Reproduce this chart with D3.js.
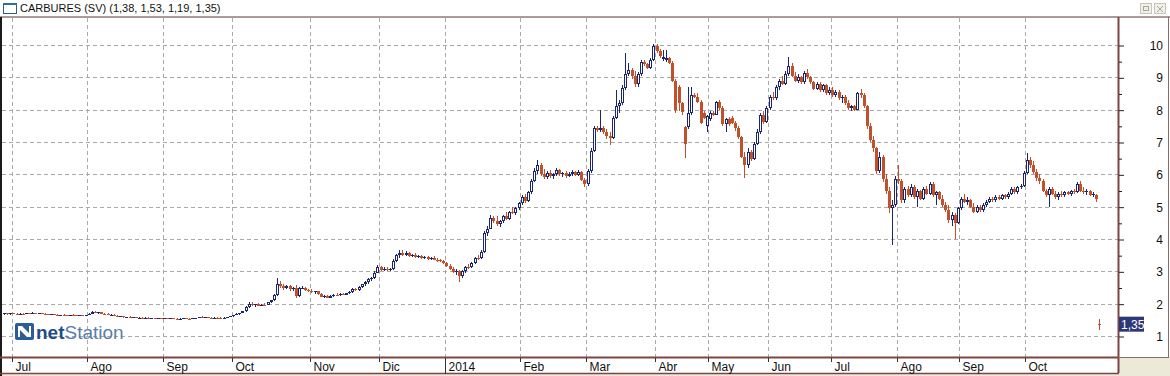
<!DOCTYPE html>
<html>
<head>
<meta charset="utf-8">
<script src="https://cdn.jsdelivr.net/npm/d3@7"></script>
<style>
  html, body { margin: 0; padding: 0; background: #ece9d8; }
  svg { display: block; }
  text { font-family: Arial, "Liberation Sans", sans-serif; }
</style>
</head>
<body>
<svg id="chart" width="1170" height="376"></svg>
<script>
// ---------------- DATA ----------------
const titleText = "CARBURES (SV) (1,38, 1,53, 1,19, 1,35)";
const lastPriceLabel = "1,35";
const lastPrice = 1.35;
const monthLabels = ["Jul","Ago","Sep","Oct","Nov","Dic","2014","Feb","Mar","Abr","May","Jun","Jul","Ago","Sep","Oct"];
const monthIdx    = [3, 27, 51, 73, 98, 120, 141, 165, 186, 208, 225, 244, 264, 285, 305, 326];
const yearTick = "2014";
const priceTicks = [1,2,3,4,5,6,7,8,9,10];
const priceMinorTicks = [1.5,2.5,3.5,4.5,5.5,6.5,7.5,8.5,9.5];
// daily candles [open, high, low, close]
const candles = [
  // Jul 2013
  [1.68,1.72,1.66,1.70],[1.70,1.72,1.66,1.67],[1.67,1.71,1.66,1.70],[1.70,1.72,1.68,1.69],[1.69,1.71,1.67,1.68],
  [1.68,1.70,1.66,1.69],[1.69,1.71,1.67,1.68],[1.68,1.72,1.67,1.70],[1.70,1.72,1.68,1.69],[1.69,1.73,1.68,1.71],
  [1.71,1.72,1.68,1.69],[1.69,1.71,1.67,1.70],[1.70,1.72,1.68,1.68],[1.68,1.70,1.66,1.67],[1.67,1.69,1.65,1.66],
  [1.66,1.68,1.64,1.67],[1.67,1.68,1.64,1.65],[1.65,1.67,1.63,1.64],[1.64,1.66,1.62,1.65],[1.65,1.67,1.63,1.64],
  [1.64,1.65,1.62,1.63],[1.63,1.66,1.62,1.65],[1.65,1.67,1.63,1.64],[1.64,1.66,1.62,1.63],[1.63,1.65,1.61,1.64],
  [1.64,1.66,1.62,1.63],[1.63,1.66,1.62,1.65],
  // Ago
  [1.65,1.70,1.64,1.69],[1.69,1.76,1.68,1.74],[1.74,1.78,1.70,1.72],[1.72,1.75,1.69,1.73],[1.73,1.75,1.68,1.69],
  [1.69,1.72,1.66,1.67],[1.67,1.70,1.64,1.65],[1.65,1.68,1.63,1.66],[1.66,1.67,1.61,1.62],[1.62,1.64,1.59,1.60],
  [1.60,1.63,1.58,1.61],[1.61,1.62,1.57,1.58],[1.58,1.60,1.56,1.59],[1.59,1.61,1.56,1.57],[1.57,1.59,1.55,1.58],
  [1.58,1.60,1.55,1.56],[1.56,1.58,1.54,1.57],[1.57,1.58,1.54,1.55],[1.55,1.58,1.54,1.57],[1.57,1.58,1.54,1.55],
  [1.55,1.57,1.53,1.56],[1.56,1.57,1.53,1.54],[1.54,1.56,1.52,1.55],[1.55,1.57,1.53,1.54],
  // Sep
  [1.54,1.56,1.52,1.55],[1.55,1.56,1.52,1.53],[1.53,1.56,1.52,1.55],[1.55,1.57,1.53,1.54],[1.54,1.56,1.52,1.53],
  [1.53,1.55,1.51,1.54],[1.54,1.56,1.52,1.55],[1.55,1.57,1.53,1.54],[1.54,1.55,1.52,1.53],[1.53,1.56,1.52,1.55],
  [1.55,1.57,1.54,1.56],[1.56,1.60,1.55,1.59],[1.59,1.61,1.56,1.57],[1.57,1.59,1.55,1.58],[1.58,1.60,1.56,1.57],
  [1.57,1.59,1.55,1.56],[1.56,1.58,1.54,1.57],[1.57,1.59,1.55,1.56],[1.56,1.58,1.54,1.55],[1.55,1.58,1.54,1.57],
  [1.57,1.60,1.56,1.59],[1.59,1.62,1.58,1.61],
  // Oct
  [1.61,1.66,1.60,1.65],[1.65,1.70,1.64,1.68],[1.68,1.72,1.66,1.71],[1.71,1.78,1.70,1.76],[1.76,1.92,1.75,1.90],
  [1.90,2.05,1.88,2.00],[2.00,2.04,1.92,1.95],[1.95,2.00,1.90,1.98],[1.98,2.02,1.92,1.94],[1.94,2.00,1.92,1.97],
  [1.97,2.02,1.94,1.96],[1.96,2.06,1.95,2.04],[2.04,2.12,2.02,2.10],[2.10,2.30,2.08,2.26],[2.26,2.80,2.24,2.62],
  [2.62,2.70,2.50,2.55],[2.55,2.62,2.42,2.48],[2.48,2.58,2.45,2.55],[2.55,2.58,2.40,2.44],[2.44,2.52,2.40,2.48],
  [2.50,2.58,2.18,2.24],[2.24,2.52,2.20,2.48],[2.48,2.55,2.44,2.50],[2.50,2.52,2.38,2.42],[2.42,2.46,2.36,2.40],
  // Nov
  [2.40,2.44,2.32,2.35],[2.35,2.40,2.30,2.38],[2.38,2.40,2.28,2.30],[2.30,2.34,2.20,2.22],[2.22,2.28,2.18,2.25],
  [2.25,2.28,2.16,2.18],[2.18,2.26,2.16,2.24],[2.24,2.30,2.22,2.28],[2.28,2.32,2.24,2.26],[2.26,2.32,2.24,2.30],
  [2.30,2.34,2.26,2.28],[2.28,2.34,2.26,2.32],[2.32,2.38,2.30,2.35],[2.35,2.48,2.33,2.45],[2.45,2.50,2.40,2.42],
  [2.42,2.55,2.40,2.52],[2.52,2.62,2.50,2.60],[2.60,2.70,2.56,2.66],[2.66,2.78,2.62,2.75],[2.75,2.82,2.70,2.78],
  [2.78,3.00,2.76,2.96],[2.96,3.20,2.94,3.12],
  // Dic
  [3.12,3.18,3.02,3.05],[3.05,3.12,3.00,3.08],[3.08,3.12,3.00,3.03],[3.03,3.10,3.00,3.07],[3.07,3.38,3.05,3.32],
  [3.32,3.55,3.30,3.50],[3.50,3.65,3.42,3.58],[3.58,3.66,3.48,3.52],[3.52,3.62,3.46,3.56],[3.56,3.60,3.44,3.48],
  [3.48,3.55,3.44,3.52],[3.52,3.56,3.42,3.45],[3.45,3.50,3.40,3.47],[3.47,3.50,3.38,3.42],[3.42,3.48,3.38,3.44],
  [3.44,3.47,3.36,3.38],[3.38,3.45,3.35,3.42],[3.42,3.46,3.34,3.36],[3.36,3.40,3.30,3.34],[3.34,3.38,3.28,3.32],
  [3.32,3.36,3.22,3.25],
  // Ene 2014
  [3.25,3.28,3.12,3.15],[3.15,3.22,3.05,3.08],[3.08,3.12,2.95,2.98],[2.98,3.06,2.90,3.02],[3.02,3.04,2.68,2.85],
  [2.85,3.05,2.80,3.00],[3.00,3.18,2.96,3.14],[3.14,3.22,3.08,3.12],[3.12,3.30,3.10,3.27],[3.27,3.45,3.24,3.42],
  [3.42,3.50,3.36,3.40],[3.40,3.65,3.38,3.60],[3.60,4.25,3.58,4.18],[4.18,4.40,4.10,4.32],[4.32,4.75,4.30,4.65],
  [4.65,4.72,4.50,4.55],[4.55,4.70,4.40,4.45],[4.45,4.60,4.38,4.55],[4.55,4.75,4.50,4.70],[4.70,4.82,4.58,4.62],
  [4.62,4.88,4.60,4.85],[4.85,5.00,4.78,4.80],[4.80,5.00,4.75,4.95],
  // Feb
  [4.95,5.15,4.90,5.10],[5.10,5.35,5.05,5.30],[5.30,5.40,5.10,5.18],[5.18,5.50,5.15,5.45],[5.45,5.85,5.40,5.78],
  [5.78,6.20,5.75,6.10],[6.10,6.45,6.00,6.28],[6.28,6.35,5.95,6.02],[6.02,6.15,5.85,5.92],[5.92,6.10,5.85,6.05],
  [6.05,6.12,5.88,5.95],[5.95,6.05,5.85,6.00],[6.00,6.20,5.95,6.12],[6.12,6.18,5.95,6.00],[6.00,6.08,5.92,6.05],
  [6.05,6.10,5.90,5.95],[5.95,6.08,5.92,6.02],[6.02,6.12,5.96,6.06],[6.06,6.10,5.95,5.98],[5.98,6.12,5.95,6.08],
  [6.08,6.10,5.78,5.82],[5.82,5.90,5.62,5.70],
  // Mar
  [5.70,6.15,5.65,6.10],[6.10,6.80,6.05,6.72],[6.72,7.50,6.70,7.42],[7.42,7.50,7.30,7.38],[7.38,8.00,7.30,7.42],
  [7.42,7.48,7.25,7.30],[7.30,7.40,7.10,7.20],[7.20,7.30,6.90,7.12],[7.12,7.80,7.10,7.75],[7.75,8.60,7.70,8.12],
  [8.12,8.30,7.90,8.20],[8.20,8.75,8.15,8.68],[8.68,9.75,8.62,9.10],[9.10,9.45,9.05,9.22],[9.22,9.30,8.95,9.05],
  [9.05,9.20,8.70,8.80],[8.80,9.15,8.70,9.10],[9.10,9.55,9.05,9.48],[9.48,9.55,9.35,9.40],[9.40,9.45,9.25,9.30],
  [9.30,9.60,9.25,9.55],
  // Abr
  [9.55,10.02,9.50,9.98],[9.98,10.02,9.75,9.80],[9.80,9.88,9.60,9.66],[9.58,9.85,9.50,9.62],[9.55,9.85,9.48,9.60],
  [9.60,9.62,9.40,9.45],[9.45,9.50,8.85,8.90],[8.90,8.95,7.90,8.00],[8.70,8.75,7.95,8.20],[8.20,8.25,7.85,7.92],
  [7.45,7.50,6.50,6.95],[7.45,8.70,7.40,7.90],[7.90,8.70,7.85,8.45],[8.45,8.50,8.35,8.40],[8.40,8.50,8.20,8.25],
  [8.25,8.30,7.55,7.60],[7.90,7.95,7.70,7.75],[7.50,7.85,7.30,7.80],
  // May
  [7.70,7.95,7.65,7.90],[7.90,7.95,7.80,7.85],[7.85,8.28,7.82,8.25],[8.25,8.30,8.00,8.05],[8.05,8.10,7.50,7.55],
  [7.55,7.75,7.30,7.70],[7.70,7.78,7.50,7.55],[7.75,7.80,7.55,7.60],[7.60,7.65,7.35,7.42],[7.42,7.48,7.10,7.15],
  [7.15,7.20,6.50,6.55],[6.55,6.70,5.90,6.30],[6.30,6.80,6.20,6.70],[6.70,6.75,6.40,6.48],[6.48,7.00,6.45,6.95],
  [6.95,7.40,6.90,7.30],[7.30,7.90,7.25,7.85],[7.85,7.95,7.55,7.62],[7.62,8.10,7.60,8.05],
  // Jun
  [8.05,8.45,8.00,8.40],[8.40,8.55,8.30,8.35],[8.35,8.75,8.30,8.70],[8.70,8.95,8.60,8.88],[8.88,9.05,8.75,8.80],
  [8.80,9.20,8.75,9.10],[9.10,9.62,9.05,9.35],[9.35,9.45,9.00,9.05],[9.05,9.15,8.85,8.90],[8.90,9.10,8.82,9.00],
  [9.00,9.05,8.78,8.85],[8.85,9.20,8.80,9.12],[9.12,9.25,8.95,9.00],[9.00,9.05,8.80,8.85],[8.85,8.90,8.60,8.65],
  [8.65,8.85,8.60,8.80],[8.80,8.85,8.55,8.60],[8.60,8.80,8.55,8.75],[8.75,8.80,8.45,8.50],[8.50,8.70,8.45,8.62],
  // Jul
  [8.62,8.70,8.40,8.45],[8.45,8.60,8.40,8.55],[8.55,8.60,8.30,8.35],[8.35,8.45,8.20,8.40],[8.40,8.45,8.15,8.20],
  [8.20,8.30,8.00,8.05],[8.05,8.15,7.95,8.10],[8.10,8.15,7.95,8.00],[8.00,8.55,7.98,8.50],[8.50,8.65,8.35,8.45],
  [8.45,8.50,8.05,8.10],[8.10,8.15,7.40,7.50],[7.50,7.60,7.00,7.05],[7.05,7.20,6.70,6.80],[6.80,6.85,6.00,6.10],
  [6.10,6.70,6.05,6.55],[6.55,6.60,5.75,5.85],[5.85,6.00,5.40,5.50],[5.50,5.60,4.80,4.95],[4.95,5.20,3.80,5.05],
  [5.05,5.95,5.00,5.85],
  // Ago
  [5.85,6.30,5.70,5.80],[5.80,5.85,5.10,5.20],[5.20,5.60,5.10,5.55],[5.55,5.65,5.30,5.35],[5.35,5.70,5.30,5.62],
  [5.62,5.68,5.25,5.30],[5.30,5.55,5.00,5.48],[5.48,5.52,5.20,5.25],[5.25,5.60,5.20,5.55],[5.55,5.65,5.35,5.40],
  [5.40,5.75,5.35,5.70],[5.70,5.75,5.30,5.35],[5.35,5.50,5.05,5.45],[5.45,5.50,5.20,5.25],[5.25,5.35,5.00,5.05],
  [5.05,5.15,4.85,4.90],[4.90,5.05,4.50,4.60],[4.60,4.85,4.40,4.75],[4.75,4.80,4.00,4.50],[4.50,5.00,4.45,4.95],
  // Sep
  [4.95,5.30,4.90,5.25],[5.25,5.40,5.10,5.15],[5.15,5.30,5.05,5.22],[5.22,5.25,4.95,5.00],[5.00,5.10,4.80,4.85],
  [4.85,5.05,4.80,5.00],[5.00,5.05,4.85,4.90],[4.90,5.10,4.85,5.05],[5.05,5.20,5.00,5.15],[5.15,5.30,5.10,5.25],
  [5.25,5.30,5.15,5.20],[5.20,5.35,5.15,5.30],[5.30,5.35,5.20,5.25],[5.25,5.40,5.20,5.35],[5.35,5.40,5.25,5.30],
  [5.30,5.45,5.25,5.40],[5.40,5.60,5.35,5.55],[5.55,5.60,5.40,5.45],[5.45,5.65,5.40,5.62],[5.62,5.70,5.55,5.65],
  // Oct
  [5.65,6.10,5.60,6.05],[6.05,6.65,6.00,6.45],[6.45,6.55,6.20,6.28],[6.28,6.40,6.00,6.08],[6.08,6.15,5.80,5.88],
  [5.88,6.00,5.70,5.78],[5.78,5.85,5.45,5.50],[5.50,5.55,5.30,5.35],[5.35,5.60,5.00,5.55],[5.55,5.60,5.35,5.40],
  [5.40,5.50,5.25,5.30],[5.30,5.45,5.20,5.40],[5.40,5.48,5.30,5.35],[5.35,5.50,5.30,5.45],[5.45,5.50,5.35,5.38],
  [5.38,5.52,5.32,5.48],[5.48,5.55,5.40,5.45],[5.45,5.75,5.42,5.70],[5.70,5.78,5.45,5.50],[5.50,5.60,5.40,5.45],
  [5.45,5.55,5.35,5.50],[5.50,5.52,5.32,5.36],[5.36,5.45,5.30,5.40],[5.35,5.38,5.15,5.25],[1.38,1.53,1.19,1.35]
];

// ---------------- LAYOUT ----------------
const W = 1170, H = 376;
const plot = {left: 2, right: 1118, top: 18, bottom: 357};
const axisBottom = 373;
const panelRight = 1168;
const upColor = "#1c2670";
const downColor = "#c0512a";
const frameColor = "#7e4444";
const gridColor = "#a9a9a9";

const svg = d3.select("#chart");

const x = d3.scaleLinear().domain([0, candles.length - 1]).range([4, 1099]);
const y = d3.scaleLinear().domain([1, 10]).range([336, 45]);
const tickX = i => Math.round(x(i) - 1.5) + 0.5;

// backgrounds
svg.append("rect").attr("x",0).attr("y",0).attr("width",W).attr("height",H).attr("fill","#ece9d8");
svg.append("rect").attr("x",0).attr("y",0).attr("width",W).attr("height",plot.bottom).attr("fill","#fff");
svg.append("rect").attr("x",0).attr("y",plot.bottom).attr("width",plot.right).attr("height",axisBottom-plot.bottom).attr("fill","#fff");

// title bar
svg.append("rect").attr("x",3.5).attr("y",3.5).attr("width",13).attr("height",10).attr("fill","#fff").attr("stroke","#2c5f86");
svg.append("rect").attr("x",3).attr("y",3).attr("width",14).attr("height",2).attr("fill","#2c6f9a");
svg.append("text").attr("x",20).attr("y",12).attr("font-size",11).attr("fill","#111").text(titleText);
// window buttons
[[1140,"restore"],[1154,"close"]].forEach(([bx,kind]) => {
  svg.append("rect").attr("x",bx+0.5).attr("y",3.5).attr("width",11).attr("height",10).attr("fill","#f0efe8").attr("stroke","#c8c6bc");
  if (kind === "restore") {
    svg.append("rect").attr("x",bx+3.5).attr("y",6.5).attr("width",5).attr("height",4).attr("fill","none").attr("stroke","#a8a6a0");
  } else {
    svg.append("path").attr("d",`M${bx+3},6 L${bx+9},12 M${bx+9},6 L${bx+3},12`).attr("stroke","#a8a6a0");
  }
});
svg.append("line").attr("x1",0).attr("x2",W).attr("y1",17).attr("y2",17).attr("stroke","#5c3434").attr("stroke-width",1.2);

// grid
const grid = svg.append("g");
grid.selectAll("line.h").data(priceTicks).join("line")
  .attr("x1",plot.left).attr("x2",plot.right)
  .attr("y1",d => Math.round(y(d))+0.5).attr("y2",d => Math.round(y(d))+0.5)
  .attr("stroke",gridColor).attr("stroke-dasharray","4,3");
grid.selectAll("line.v").data(monthIdx).join("line")
  .attr("x1",d => tickX(d)).attr("x2",d => tickX(d))
  .attr("y1",plot.top).attr("y2",plot.bottom)
  .attr("stroke",gridColor).attr("stroke-dasharray","4,3");

// candles
const cg = svg.append("g");
candles.forEach((c, i) => {
  const [o,h,l,cl] = c;
  const up = cl >= o;
  const col = up ? upColor : downColor;
  const cx = Math.round(x(i));
  const yTop = Math.round(y(Math.max(o,cl)));
  let yBot = Math.round(y(Math.min(o,cl)));
  if (yBot - yTop < 1) yBot = yTop + 1;
  const yH = Math.round(y(h)), yL = Math.round(y(l));
  cg.append("line").attr("x1",cx+0.5).attr("x2",cx+0.5).attr("y1",yH).attr("y2",yTop).attr("stroke",col);
  cg.append("line").attr("x1",cx+0.5).attr("x2",cx+0.5).attr("y1",yBot).attr("y2",yL).attr("stroke",col);
  if (up) {
    if (yBot - yTop >= 2) {
      cg.append("rect").attr("x",cx-0.5).attr("y",yTop+0.5).attr("width",2).attr("height",yBot-yTop-1)
        .attr("fill","#fff").attr("stroke",col);
    } else {
      cg.append("rect").attr("x",cx-1).attr("y",yTop).attr("width",3).attr("height",yBot-yTop).attr("fill",col);
    }
  } else {
    cg.append("rect").attr("x",cx-1).attr("y",yTop).attr("width",3).attr("height",yBot-yTop).attr("fill",col);
  }
});

// logo
const logo = svg.append("g");
logo.append("rect").attr("x",15).attr("y",323).attr("width",19).attr("height",17).attr("rx",2).attr("fill","#2b5d99");
logo.append("path").attr("d","M18,337 L18,326 L22,326 L29,333 L29,326 L31,326 L31,337 L27,337 L20,330 L20,337 Z").attr("fill","#fff");
logo.append("text").attr("x",36).attr("y",339).attr("font-size",19)
  .call(t => {
    t.append("tspan").attr("font-weight","bold").attr("fill","#1f4c86").text("net");
    t.append("tspan").attr("fill","#5a7ea9").text("Station");
  });

// frames
svg.append("rect").attr("x",0).attr("y",17).attr("width",2).attr("height",H-17).attr("fill","#1a1a1a");
svg.append("line").attr("x1",plot.right+0.5).attr("x2",plot.right+0.5).attr("y1",17).attr("y2",axisBottom)
  .attr("stroke",frameColor).attr("stroke-width",2);
svg.append("line").attr("x1",0).attr("x2",plot.right+1).attr("y1",plot.bottom+0.5).attr("y2",plot.bottom+0.5)
  .attr("stroke",frameColor).attr("stroke-width",2);
svg.append("line").attr("x1",0).attr("x2",plot.right+1).attr("y1",axisBottom+0.5).attr("y2",axisBottom+0.5)
  .attr("stroke",frameColor).attr("stroke-width",1.5);
svg.append("line").attr("x1",panelRight+0.5).attr("x2",panelRight+0.5).attr("y1",17).attr("y2",plot.bottom+1)
  .attr("stroke","#8a6a6a");
svg.append("line").attr("x1",plot.right).attr("x2",panelRight+1).attr("y1",plot.bottom+0.5).attr("y2",plot.bottom+0.5)
  .attr("stroke","#8a6a6a");

// right axis
const ax = svg.append("g").attr("transform",`translate(${plot.right+1},0.5)`)
  .call(d3.axisRight(y).tickValues(priceTicks).tickSize(5).tickFormat(d3.format("d")));
ax.select(".domain").remove();
ax.selectAll(".tick line").attr("stroke","#222");
ax.selectAll(".tick text").attr("x",44).attr("text-anchor","end").attr("font-size",12)
  .attr("font-family","Arial, 'Liberation Sans', sans-serif").attr("fill","#111");
const axm = svg.append("g").attr("transform",`translate(${plot.right+1},0.5)`)
  .call(d3.axisRight(y).tickValues(priceMinorTicks).tickSize(3).tickFormat(""));
axm.select(".domain").remove();
axm.selectAll(".tick line").attr("stroke","#222");

// last price label
svg.append("rect").attr("x",plot.right+1).attr("y",y(lastPrice)-8).attr("width",25).attr("height",15).attr("fill","#2d3877");
svg.append("text").attr("x",plot.right+3).attr("y",y(lastPrice)+4).attr("font-size",12).attr("fill","#fff").text(lastPriceLabel);

// bottom axis
const bx = svg.append("g").attr("transform",`translate(0,${plot.bottom+1})`)
  .call(d3.axisBottom(x).tickValues(monthIdx).tickSize(4).tickFormat((d,i) => monthLabels[i]));
bx.select(".domain").remove();
bx.selectAll(".tick").attr("transform", d => `translate(${tickX(d)},0)`);
bx.selectAll(".tick line").attr("stroke","#333")
  .attr("y2",(d,i) => monthLabels[i] === yearTick ? 16 : 4);
bx.selectAll(".tick text").attr("x",3).attr("y",13).attr("dy",0).attr("text-anchor","start")
  .attr("font-size",12).attr("font-family","Arial, 'Liberation Sans', sans-serif").attr("fill","#111");
</script>
</body>
</html>
